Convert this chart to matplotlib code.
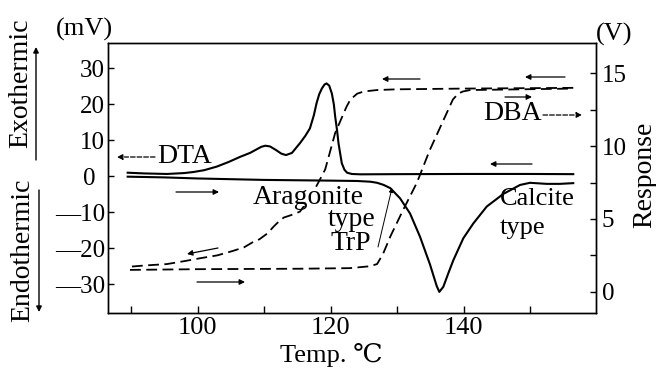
import matplotlib
matplotlib.use('Agg')
import matplotlib.pyplot as plt
from matplotlib.transforms import ScaledTranslation

W, H = 656, 369
SERIF = ['Liberation Serif', 'DejaVu Serif', 'Noto Sans CJK JP']
plt.rcParams['font.family'] = SERIF

# ---------------- data ----------------
# DTA on cooling (mV)
dta_cool_t = [89.5, 92, 95.4, 98, 99.4, 101, 102.9, 104.7, 106.4, 107.9, 108.9, 109.6,
              110.2, 110.9, 111.8, 112.6, 113.3, 114.2, 115.4, 116.2, 116.9, 117.5,
              117.9, 118.3, 118.7, 119.1, 119.4, 119.8, 120.2, 120.5, 120.7, 121.0,
              121.2, 121.5, 121.7, 122.1, 122.5, 123.2, 124.5, 130, 140, 150, 156.5]
dta_cool_v = [1.0, 0.8, 0.65, 0.9, 1.2, 1.7, 2.7, 4.0, 5.4, 6.5, 7.5, 8.2,
              8.5, 8.3, 7.3, 6.3, 5.9, 6.5, 9.2, 11.2, 13.3, 17.0,
              20.3, 22.8, 24.4, 25.5, 25.8, 25.2, 23.0, 20.0, 16.6, 12.5,
              9.2, 5.8, 3.6, 1.8, 1.0, 0.65, 0.55, 0.6, 0.65, 0.65, 0.6]

# DTA on heating (mV)
dta_heat_t = [89.5, 95, 100, 105, 110, 115, 120, 124, 126, 127, 128, 129, 130.45,
              131.95, 133.46, 134.96, 135.97, 136.36, 136.96, 137.7, 138.47, 139.97,
              141.47, 143.49, 145.98, 148.5, 150.0, 152.5, 154.5, 156.5]
dta_heat_v = [-0.1, -0.3, -0.6, -0.8, -1.0, -1.1, -1.2, -1.3, -1.5, -1.8, -2.4, -3.3, -6.1,
              -10.3, -16.8, -24.5, -30.5, -32.1, -30.7, -27.0, -23.3, -17.2,
              -13.1, -8.4, -4.9, -2.4, -1.8, -2.1, -2.1, -1.9]

# DBA response on cooling (V)
dba_cool_t = [156.5, 140, 130, 127, 125, 124, 123, 122.4, 120.7, 119.2, 118.4, 117,
              116.2, 115.4, 114, 113, 112.4, 111.5, 110.5, 109.3, 108.3, 107, 105.3,
              103, 100.4, 98, 95.4, 92, 89.85]
dba_cool_v = [14.0, 13.95, 13.9, 13.85, 13.75, 13.6, 13.2, 12.7, 10.9, 8.4, 7.7, 6.5,
              6.0, 5.5, 5.25, 5.1, 4.9, 4.5, 4.0, 3.6, 3.4, 3.05, 2.8,
              2.5, 2.3, 2.1, 1.9, 1.8, 1.72]

# DBA response on heating (V)
dba_heat_t = [89.85, 100.4, 115.4, 122.9, 125.9, 127, 127.9, 129, 130.9, 133, 134.9,
              136.5, 138.4, 139.2, 139.9, 141, 156.5]
dba_heat_v = [1.5, 1.55, 1.58, 1.62, 1.75, 1.9, 2.6, 3.8, 5.6, 7.5, 9.7,
              11.3, 13.2, 13.6, 13.75, 13.85, 13.95]

x_ticks = [90, 100, 110, 120, 130, 140, 150]
x_ticklabels = ['', '100', '', '120', '', '140', '']
mv_ticks = [-30, -20, -10, 0, 10, 20, 30]
mv_ticklabels = ['\u201430', '\u201420', '\u201410', '0', '10', '20', '30']
v_ticks = [0, 2.5, 5, 7.5, 10, 12.5, 15]
v_ticklabels = ['0', '', '5', '', '10', '', '15']

# ---------------- figure ----------------
fig = plt.figure(figsize=(W / 100, H / 100), dpi=100)
L, R, T, B = 108, 596, 43, 313
ax = fig.add_axes([L / W, 1 - B / H, (R - L) / W, (B - T) / H])
ax2 = ax.twinx()

ax.plot(dta_cool_t, dta_cool_v, color='black', lw=1.5, solid_joinstyle='round')
ax.plot(dta_heat_t, dta_heat_v, color='black', lw=1.5, solid_joinstyle='round')
ax2.plot(dba_cool_t, dba_cool_v, color='black', lw=1.3, dashes=(6, 3))
ax2.plot(dba_heat_t, dba_heat_v, color='black', lw=1.3, dashes=(6, 3))

ax.set_xlim(86.54, 159.92)
ax.set_ylim(-37.97, 37.03)
ax2.set_ylim(-1.46, 17.08)

for a in (ax, ax2):
    for s in a.spines.values():
        s.set_linewidth(1.0)

ax.set_xticks(x_ticks)
ax.set_xticklabels(x_ticklabels, fontsize=19)
ax.set_yticks(mv_ticks)
ax.set_yticklabels(mv_ticklabels, fontsize=18)
ax2.set_yticks(v_ticks)
ax2.set_yticklabels(v_ticklabels, fontsize=18)
ax.tick_params(axis='x', direction='in', length=5, width=1, pad=3)
ax.tick_params(axis='y', direction='in', length=4, width=1, pad=2)
ax2.tick_params(axis='y', direction='in', length=4, width=1, pad=4)

for lab in ax.get_yticklabels():
    if lab.get_text() == '0':
        lab.set_transform(lab.get_transform() + ScaledTranslation(-0.10, 0, fig.dpi_scale_trans))


def fx(px):
    return px / W


def fy(py):
    return 1 - py / H


def txt(px, py, s, size=19, rot=0, ha='center', va='center', **kw):
    fig.text(fx(px), fy(py), s, fontsize=size, rotation=rot, ha=ha, va=va, **kw)


def arrow(p0, p1, ls='-', lw=0.9, ms=8):
    fig.add_artist(matplotlib.patches.FancyArrowPatch(
        (fx(p0[0]), fy(p0[1])), (fx(p1[0]), fy(p1[1])), transform=fig.transFigure,
        arrowstyle='-|>', mutation_scale=ms, lw=lw, color='black', linestyle=ls,
        shrinkA=0, shrinkB=0))


txt(84, 29, '(mV)', size=19)
txt(614, 34, '(V)', size=19)
txt(21, 83, 'Exothermic', size=20, rot=90)
txt(23, 250, 'Endothermic', size=20, rot=90)
txt(645, 175, 'Response', size=20, rot=90)
txt(331, 355, 'Temp. \u2103', size=19)
txt(185, 156, 'DTA', size=20)
txt(513, 114, 'DBA', size=20)
txt(308, 198, 'Aragonite', size=20,
    bbox=dict(facecolor='white', edgecolor='none', pad=-3))
txt(352, 220, 'type', size=20)
txt(351, 244, 'TrP', size=20)
txt(500, 199, 'Calcite', size=19, ha='left')
txt(500, 228, 'type', size=19, ha='left')

# direction arrows
arrow((420, 79), (382, 79))
arrow((565, 77), (525, 77))
arrow((532, 164), (490, 164))
arrow((176, 192), (219, 192))
arrow((218, 248), (187, 254))
arrow((197, 282), (245, 282))
arrow((505, 97), (532, 97))
arrow((155, 157), (117, 157), ls='--')
arrow((543, 115), (582, 115), ls='--')
arrow((378, 247), (392, 188), lw=0.7, ms=6)
arrow((36, 160), (36, 47), lw=1.0)
arrow((39, 190), (39, 312), lw=1.0)

fig.savefig('out.png', dpi=100)
